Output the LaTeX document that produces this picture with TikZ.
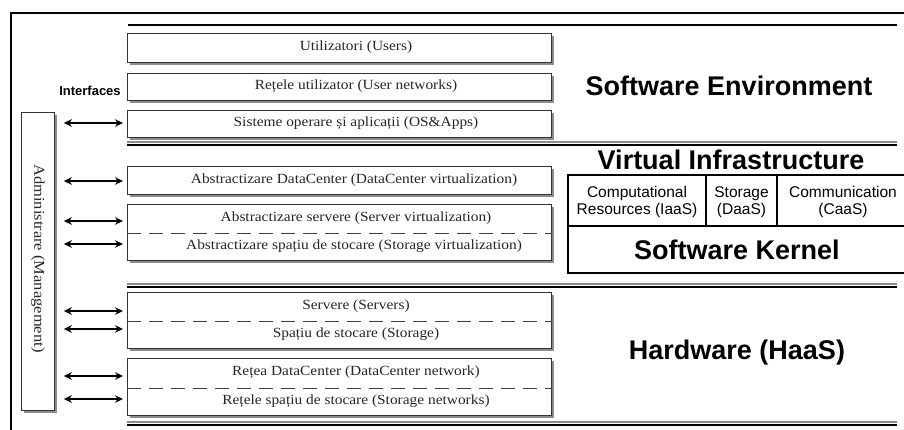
\documentclass[tikz,border=0pt]{standalone}
\usepackage{fontspec}
\setmainfont{Liberation Serif}[FakeStretch=1.1]
\newfontfamily\sansf{Liberation Sans}
\usetikzlibrary{arrows.meta,shadows}
\begin{document}
\begin{tikzpicture}[x=1pt,y=-1pt,
  layerbox/.style={draw=black!80, line width=0.8pt, fill=white, anchor=north west, inner sep=0pt,
    drop shadow={shadow xshift=3pt, shadow yshift=-3pt, fill=black!45, opacity=1}},
  boxtext/.style={font=\fontsize{14}{16}\selectfont, text=black!85, inner sep=0pt},
  biarrow/.style={{Stealth[length=8pt,width=7.5pt]}-{Stealth[length=8pt,width=7.5pt]}, line width=1.5pt},
  sepline/.style={line width=1.6pt, black},
  sepshade/.style={line width=1.1pt, black!45},
  divline/.style={dashed, dash pattern=on 14pt off 8pt, line width=0.7pt, black!75},
  bigtitle/.style={font=\sansf\bfseries\fontsize{27}{29}\selectfont, inner sep=0pt},
  celltext/.style={font=\sansf\fontsize{15.5}{17}\selectfont, align=center, inner sep=0pt}
]
\useasboundingbox (0,0) rectangle (904,430);
\fill[white] (0,0) rectangle (904,430);
% outer frame
\draw[line width=1.5pt] (11,436) -- (11,13) -- (910,13);

% separator lines
\draw[sepline] (128,25) -- (897,25);
\foreach \yy in {142,284,422}{
  \draw[sepshade] (127,\yy) -- (897,\yy);
  \draw[sepline] (127,\yy+2.8) -- (897,\yy+2.8);
}

% boxes
\node[layerbox, minimum width=424pt, minimum height=29pt] (usr) at (127,33) {};
\node[layerbox, minimum width=424pt, minimum height=27pt] (unet) at (127,73) {};
\node[layerbox, minimum width=424pt, minimum height=27pt] (os) at (127,110) {};
\node[layerbox, minimum width=424pt, minimum height=28pt] (dcv) at (127,166) {};
\node[layerbox, minimum width=424pt, minimum height=56pt] (virt) at (127,204) {};
\node[layerbox, minimum width=424pt, minimum height=56pt] (hw1) at (127,292) {};
\node[layerbox, minimum width=424pt, minimum height=57pt] (hw2) at (127,358) {};

\draw[divline] (virt.west |- 0,233) -- (virt.east |- 0,233);
\draw[divline] (hw1.west |- 0,321) -- (hw1.east |- 0,321);
\draw[divline] (hw2.west |- 0,388) -- (hw2.east |- 0,388);

% box texts
\node[boxtext] (t1) at (356,47.5) {Utilizatori (Users)};
\node[boxtext] (t2) at (356,86.5) {Rețele utilizator (User networks)};
\node[boxtext] (t3) at (356,123.5) {Sisteme operare și aplicații (OS\&Apps)};
\node[boxtext] (t4) at (354,180) {Abstractizare DataCenter (DataCenter virtualization)};
\node[boxtext] (t5) at (356,218) {Abstractizare servere (Server virtualization)};
\node[boxtext] (t6) at (354,246.5) {Abstractizare spațiu de stocare (Storage virtualization)};
\node[boxtext] (t7) at (356,306) {Servere (Servers)};
\node[boxtext] (t8) at (356,334) {Spațiu de stocare (Storage)};
\node[boxtext] (t9) at (356,372.5) {Rețea DataCenter (DataCenter network)};
\node[boxtext] (t10) at (356,401) {Rețele spațiu de stocare (Storage networks)};

% admin box
\node[layerbox, minimum width=33pt, minimum height=298pt] (adm) at (21,112) {};
\node[boxtext, rotate=-90, font=\fontsize{15}{16}\selectfont] (admt) at ([yshift=3pt]adm.center) {Administrare (Management)};

\node[font=\sansf\bfseries\fontsize{13}{14}\selectfont, inner sep=0pt] (intf) at (90,91) {Interfaces};

% arrows
\foreach \yy/\nm in {123/os,181/dcv,221/virt,244/virt,311/hw1,329/hw1,376/hw2,399/hw2}{
  \coordinate (al) at (adm.east |- 0,\yy);
  \coordinate (ar) at (\nm.west |- 0,\yy);
  \draw[biarrow, shorten <=9pt, shorten >=4pt] (al) -- (ar);
}

% right side
\node[bigtitle] (swenv) at (729,86) {Software Environment};
\node[bigtitle] (vinf) at (731,160) {Virtual Infrastructure};
\node[bigtitle] (hwt) at (737,353) {Hardware (HaaS)};

\draw[line width=1.5pt] (910,175) -- (568,175) -- (568,273) -- (910,273);
\draw[line width=1.5pt] (568,226) -- (910,226);
\draw[line width=1.5pt] (706,175) -- (706,226);
\draw[line width=1.5pt] (777,175) -- (777,226);
\node[celltext] (c1) at (637,202) {Computational\\Resources (IaaS)};
\node[celltext] (c2) at (741.5,202) {Storage\\(DaaS)};
\node[celltext] (c3) at (843,202) {Communication\\(CaaS)};
\node[bigtitle] (sk) at (737,250) {Software Kernel};
\end{tikzpicture}
\end{document}
